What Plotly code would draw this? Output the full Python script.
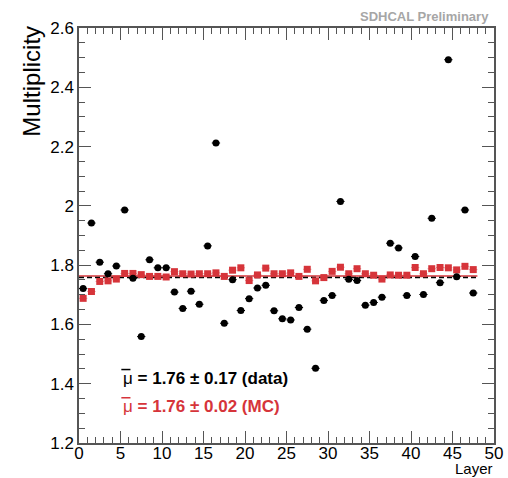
import plotly.graph_objects as go

layers = [i + 0.5 for i in range(48)]

data_mult = [1.721, 1.942, 1.810, 1.771, 1.797, 1.986, 1.756, 1.559, 1.818, 1.791,
             1.791, 1.709, 1.654, 1.712, 1.668, 1.865, 2.212, 1.604, 1.751, 1.647,
             1.687, 1.723, 1.732, 1.646, 1.619, 1.615, 1.657, 1.584, 1.452, 1.681,
             1.698, 2.015, 1.752, 1.748, 1.665, 1.674, 1.692, 1.874, 1.858, 1.698,
             1.829, 1.701, 1.958, 1.741, 2.493, 1.761, 1.986, 1.706]

mc_mult = [1.688, 1.711, 1.745, 1.747, 1.753, 1.772, 1.772, 1.768, 1.762, 1.762,
           1.760, 1.778, 1.771, 1.770, 1.771, 1.771, 1.774, 1.762, 1.783, 1.791,
           1.748, 1.767, 1.790, 1.771, 1.771, 1.774, 1.762, 1.786, 1.747, 1.758,
           1.779, 1.793, 1.771, 1.788, 1.771, 1.766, 1.753, 1.767, 1.766, 1.766,
           1.792, 1.771, 1.788, 1.792, 1.791, 1.784, 1.796, 1.785]

fit_range = [0, 48]
data_mean = [1.758, 1.758]
mc_mean = [1.763, 1.763]

x_ticks = [0, 5, 10, 15, 20, 25, 30, 35, 40, 45, 50]
y_ticks = [1.2, 1.4, 1.6, 1.8, 2.0, 2.2, 2.4, 2.6]
y_tick_text = ["1.2", "1.4", "1.6", "1.8", "2", "2.2", "2.4", "2.6"]

RED = "rgb(214,52,58)"
FONT = "Liberation Sans, Arial, sans-serif"

fig = go.Figure()

fig.add_trace(go.Scatter(x=fit_range, y=mc_mean, mode="lines",
                         line=dict(color=RED, width=1.5), showlegend=False))
fig.add_trace(go.Scatter(x=fit_range, y=data_mean, mode="lines",
                         line=dict(color="black", width=1.5, dash="5px,3px"), showlegend=False))

fig.add_trace(go.Scatter(x=layers, y=mc_mult, mode="markers",
                         marker=dict(symbol="square", size=7, color=RED),
                         error_x=dict(type="constant", value=0.5, thickness=1,
                                      width=0, color="rgba(214,52,58,0.5)"),
                         showlegend=False))
fig.add_trace(go.Scatter(x=layers, y=data_mult, mode="markers",
                         marker=dict(symbol="circle", size=7, color="black"),
                         error_x=dict(type="constant", value=0.5, thickness=1,
                                      width=0, color="black"),
                         showlegend=False))

fig.update_layout(
    width=508, height=478,
    margin=dict(l=79, r=5, t=28, b=35),
    paper_bgcolor="white", plot_bgcolor="white",
    font=dict(family=FONT, size=17, color="black"),
    xaxis=dict(range=[0, 50], tickvals=x_ticks, ticks="inside", ticklen=12,
               tickwidth=1, tickcolor="#555", showline=True, linecolor="#555",
               linewidth=1.5, mirror="allticks", showgrid=False, zeroline=False,
               tickfont=dict(size=17), ticklabeloverflow="allow",
               ticklabelstandoff=-6,
               minor=dict(dtick=1, ticks="inside", ticklen=6, tickcolor="#555")),
    yaxis=dict(range=[1.2, 2.6], tickvals=y_ticks, ticktext=y_tick_text,
               ticks="inside", ticklen=12, tickwidth=1, tickcolor="#555",
               showline=True, linecolor="#555", linewidth=1.5, mirror="allticks",
               showgrid=False, zeroline=False, tickfont=dict(size=17),
               ticklabeloverflow="allow",
               minor=dict(dtick=0.05, ticks="inside", ticklen=6, tickcolor="#555")),
)

fig.add_annotation(text="Multiplicity", xref="paper", yref="paper",
                   x=-0.115, y=1.01, xanchor="center", yanchor="top", textangle=-90,
                   showarrow=False, font=dict(size=24, family=FONT))
fig.add_annotation(text="Layer", xref="paper", yref="paper", x=1.0, y=-0.061,
                   xanchor="right", yanchor="middle", showarrow=False, borderpad=0,
                   font=dict(size=15, family=FONT))
fig.add_annotation(text="<b>SDHCAL Preliminary</b>", xref="paper", yref="paper",
                   x=0.993, y=1.005, xanchor="right", yanchor="bottom", showarrow=False,
                   font=dict(size=13, family=FONT, color="#a6a6a6"))
fig.add_annotation(text="μ<b> = 1.76 ± 0.17 (data)</b>", xref="paper", yref="paper",
                   x=0.1, y=0.155, xanchor="left", yanchor="middle", showarrow=False,
                   font=dict(size=17, family=FONT, color="black"))
fig.add_annotation(text="μ<b> = 1.76 ± 0.02 (MC)</b>", xref="paper", yref="paper",
                   x=0.1, y=0.087, xanchor="left", yanchor="middle", showarrow=False,
                   font=dict(size=17, family=FONT, color=RED))
# overline bars above the mu symbols
fig.add_shape(type="line", xref="paper", yref="paper", x0=0.102, x1=0.124,
              y0=0.177, y1=0.177, line=dict(color="black", width=1.5))
fig.add_shape(type="line", xref="paper", yref="paper", x0=0.102, x1=0.124,
              y0=0.109, y1=0.109, line=dict(color=RED, width=1.5))

fig.write_html("out.html")
